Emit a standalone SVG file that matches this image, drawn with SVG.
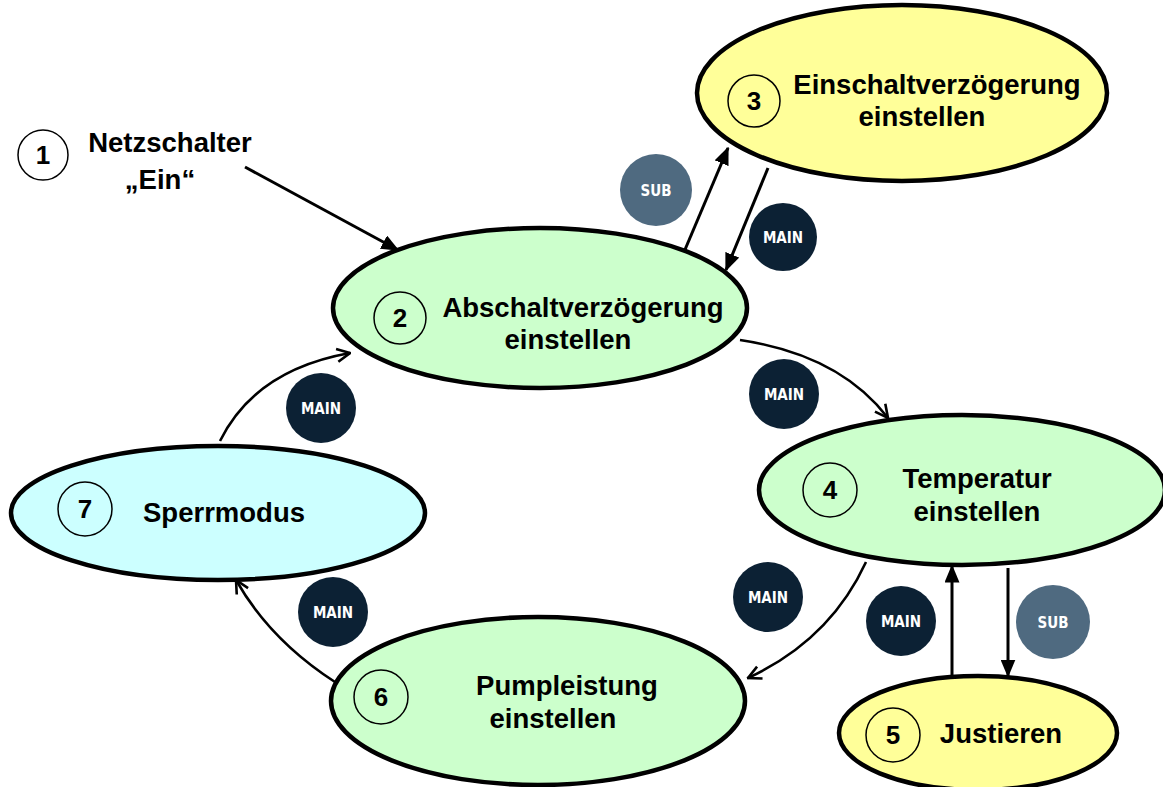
<svg xmlns="http://www.w3.org/2000/svg" width="1163" height="787" viewBox="0 0 1163 787">
<style>
.ell{stroke:#000;stroke-width:4.5}
.g{fill:#ccffcc}.y{fill:#ffff99}.c{fill:#ccffff}
.num{fill:none;stroke:#000;stroke-width:1.5}
.t{font-family:"Liberation Sans",Arial,sans-serif;font-weight:bold;font-size:27.5px;fill:#000;text-anchor:middle}
.d{font-family:"Liberation Sans",Arial,sans-serif;font-weight:bold;font-size:26px;fill:#000;text-anchor:middle}
.con{fill:none;stroke:#000;stroke-width:3;marker-end:url(#ah)}
.cur{fill:none;stroke:#000;stroke-width:2.6;marker-end:url(#av)}
.main{fill:#0c2134}.sub{fill:#4f6a80}
.bt{font-family:"DejaVu Sans Condensed","DejaVu Sans",sans-serif;font-weight:bold;font-size:15px;fill:#fff;text-anchor:middle}
</style>
<defs>
<marker id="ah" viewBox="0 0 12 10" refX="11" refY="5" markerWidth="6" markerHeight="5" orient="auto" markerUnits="strokeWidth">
<path d="M0,0 L12,5 L0,10 Z" fill="#000"/>
</marker>
<marker id="av" viewBox="0 0 12 12" refX="11" refY="6" markerWidth="6" markerHeight="6" orient="auto" markerUnits="strokeWidth">
<path d="M1,1 L11,6 L1,11" fill="none" stroke="#000" stroke-width="2"/>
</marker>
</defs>
<rect width="1163" height="787" fill="#fff"/>
<g id="connectors">
<line class="con" x1="245" y1="167" x2="398" y2="250"/>
<line class="con" x1="684" y1="252" x2="728" y2="148"/>
<line class="con" x1="768" y1="168" x2="726" y2="270"/>
<path class="cur" d="M740,340 Q840,355 888,418"/>
<path class="cur" d="M866,562 Q830,640 748,678"/>
<line class="con" x1="1008" y1="568" x2="1008" y2="676"/>
<line class="con" x1="952" y1="675" x2="952" y2="566"/>
<path class="cur" d="M335,682 Q270,640 236,580"/>
<path class="cur" d="M220,441 Q255,370 350,353"/>
</g>
<g id="node1">
<circle class="num" cx="43" cy="155" r="25"/>
<text class="d" x="43" y="164">1</text>
<text class="t" x="170" y="152">Netzschalter</text>
<text class="t" x="160" y="189">„Ein“</text>
</g>
<g id="node3">
<ellipse class="ell y" cx="902" cy="93" rx="205" ry="88"/>
<circle class="num" cx="754" cy="101" r="26"/>
<text class="d" x="754" y="110">3</text>
<text class="t" x="937" y="94">Einschaltverzögerung</text>
<text class="t" x="922" y="126">einstellen</text>
</g>
<g id="node2">
<ellipse class="ell g" cx="540" cy="308" rx="207" ry="80"/>
<circle class="num" cx="400" cy="318" r="26"/>
<text class="d" x="400" y="327">2</text>
<text class="t" x="583" y="317">Abschaltverzögerung</text>
<text class="t" x="568" y="349">einstellen</text>
</g>
<g id="node4">
<ellipse class="ell g" cx="962" cy="490" rx="203" ry="75"/>
<circle class="num" cx="830" cy="490" r="27"/>
<text class="d" x="830" y="499">4</text>
<text class="t" x="977" y="488">Temperatur</text>
<text class="t" x="977" y="521">einstellen</text>
</g>
<g id="node5">
<ellipse class="ell y" cx="978" cy="733" rx="139" ry="57"/>
<circle class="num" cx="893" cy="735" r="27"/>
<text class="d" x="893" y="744">5</text>
<text class="t" x="1001" y="743">Justieren</text>
</g>
<g id="node6">
<ellipse class="ell g" cx="538" cy="701" rx="207" ry="84"/>
<circle class="num" cx="381" cy="697" r="27"/>
<text class="d" x="381" y="706">6</text>
<text class="t" x="567" y="695">Pumpleistung</text>
<text class="t" x="553" y="728">einstellen</text>
</g>
<g id="node7">
<ellipse class="ell c" cx="218" cy="513" rx="207" ry="67"/>
<circle class="num" cx="85" cy="509" r="27"/>
<text class="d" x="85" y="518">7</text>
<text class="t" x="224" y="522">Sperrmodus</text>
</g>
<g id="badges">
<circle class="sub" cx="656" cy="190" r="36"/><text class="bt" x="656" y="196">SUB</text>
<circle class="main" cx="783" cy="237" r="34"/><text class="bt" x="783" y="243">MAIN</text>
<circle class="main" cx="784" cy="394" r="35"/><text class="bt" x="784" y="400">MAIN</text>
<circle class="main" cx="321" cy="408" r="35"/><text class="bt" x="321" y="414">MAIN</text>
<circle class="main" cx="768" cy="597" r="35"/><text class="bt" x="768" y="603">MAIN</text>
<circle class="main" cx="901" cy="621" r="35"/><text class="bt" x="901" y="627">MAIN</text>
<circle class="sub" cx="1053" cy="622" r="37"/><text class="bt" x="1053" y="628">SUB</text>
<circle class="main" cx="333" cy="612" r="35"/><text class="bt" x="333" y="618">MAIN</text>
</g>
</svg>
